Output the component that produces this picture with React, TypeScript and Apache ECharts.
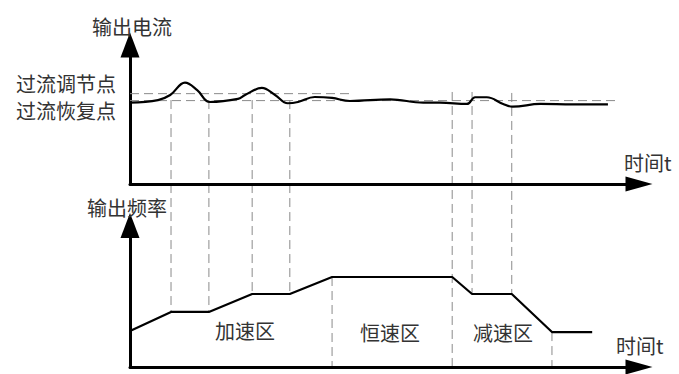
import React, { useEffect, useRef } from "react";
import * as echarts from "echarts";

// Time axis (arbitrary units 0..100)
const currentT = [0, 5.5, 7.9, 10.8, 13.2, 15.7, 21.2, 22.6, 25.9, 28.5, 31.0, 33.0, 36.3, 39.7, 43.2, 51.1, 57.6, 60.9, 66.2, 67.8, 70.1, 73.3, 75.2, 80.6, 87.0, 93.9];
const currentV = [58.6, 60.4, 64.0, 72.9, 67.6, 59.0, 61.2, 64.0, 69.1, 64.0, 58.1, 59.0, 62.6, 61.9, 59.7, 60.9, 58.5, 58.5, 57.6, 62.4, 62.4, 57.6, 55.6, 57.6, 57.3, 57.3];

const freqT = [0, 8.06, 15.5, 24.0, 31.4, 39.7, 63.3, 67.2, 75.0, 82.9, 90.8];
const freqV = [25.4, 38.9, 38.9, 51.6, 51.6, 63.6, 63.6, 51.6, 51.6, 24.7, 24.7];

// Over-current thresholds
const adjustLevel = 65.0; // 过流调节点
const adjustEndT = 43.6;
const recoverLevel = 60.0; // 过流恢复点
const recoverEndT = 95.9;

// Vertical guides: time, panel where the guide starts, value there, frequency where it ends
const guideT = [8.06, 15.5, 24.0, 31.4, 39.7, 63.3, 67.2, 75.0, 82.9];
const guideTopPanel = ["current", "current", "current", "current", "freq", "current", "current", "current", "freq"];
const guideTopValue = [60.4, 60.4, 60.4, 60.4, 63.6, 66.2, 66.2, 65.5, 24.7];
const guideBottomFreq = [38.9, 38.9, 51.6, 51.6, 0, 0, 51.6, 51.6, 0];

const FONT = '"Noto Sans CJK SC", sans-serif';

function label(text: string, x: number, y: number, align: string = "center") {
  return {
    type: "text",
    x,
    y,
    z: 10,
    style: {
      text,
      fontSize: 20,
      fontFamily: FONT,
      fill: "#333",
      align,
      verticalAlign: "middle",
    },
  };
}

export default function App() {
  const ref = useRef<HTMLDivElement>(null);
  useEffect(() => {
    if (!ref.current) return;
    const chart = echarts.init(ref.current, null, { renderer: "svg" });
    const axisLineX = {
      show: true,
      onZero: false,
      symbol: ["none", "triangle"],
      symbolSize: [15, 27],
      lineStyle: { color: "#000", width: 3 },
    };
    const axisLineY = {
      show: true,
      onZero: false,
      symbol: ["none", "triangle"],
      symbolSize: [19, 25],
      lineStyle: { color: "#000", width: 3 },
    };
    const hidden = {
      axisTick: { show: false },
      axisLabel: { show: false },
      splitLine: { show: false },
    };
    const texts = [
      label("输出电流", 132, 26),
      label("过流调节点", 66, 83),
      label("过流恢复点", 66, 110),
      label("时间t", 624, 162, "left"),
      label("输出频率", 127, 207),
      label("加速区", 245, 330),
      label("恒速区", 390, 332),
      label("减速区", 503, 332),
      label("时间t", 616, 345, "left"),
    ];
    const dashed = { color: "#8a8a8a", width: 1, type: [9, 5] };
    chart.setOption({
      animation: false,
      backgroundColor: "#fff",
      grid: [
        { left: 130, width: 509, top: 45, height: 139 },
        { left: 130, width: 509, top: 225.5, height: 141.5 },
      ],
      xAxis: [
        { type: "value", gridIndex: 0, min: 0, max: 100, axisLine: axisLineX, ...hidden },
        { type: "value", gridIndex: 1, min: 0, max: 100, axisLine: axisLineX, ...hidden },
      ],
      yAxis: [
        { type: "value", gridIndex: 0, min: 0, max: 100, axisLine: axisLineY, ...hidden },
        { type: "value", gridIndex: 1, min: 0, max: 100, axisLine: axisLineY, ...hidden },
      ],
      series: [
        {
          type: "line",
          xAxisIndex: 0,
          yAxisIndex: 0,
          data: [[0, adjustLevel], [adjustEndT, adjustLevel]],
          showSymbol: false,
          lineStyle: dashed,
          z: 1,
        },
        {
          type: "line",
          xAxisIndex: 0,
          yAxisIndex: 0,
          data: [[0, recoverLevel], [recoverEndT, recoverLevel]],
          showSymbol: false,
          lineStyle: dashed,
          z: 1,
        },
        {
          type: "line",
          xAxisIndex: 0,
          yAxisIndex: 0,
          data: currentT.map((t, i) => [t, currentV[i]]),
          smooth: 0.4,
          showSymbol: false,
          lineStyle: { color: "#000", width: 2.2 },
          z: 3,
        },
        {
          type: "line",
          xAxisIndex: 1,
          yAxisIndex: 1,
          data: freqT.map((t, i) => [t, freqV[i]]),
          showSymbol: false,
          lineStyle: { color: "#000", width: 2.2 },
          z: 3,
        },
      ],
      graphic: texts,
    });

    const guides = guideT.map((t, i) => {
      const top = chart.convertToPixel(
        { gridIndex: guideTopPanel[i] === "current" ? 0 : 1 },
        [t, guideTopValue[i]]
      ) as number[];
      const bottom = chart.convertToPixel({ gridIndex: 1 }, [t, guideBottomFreq[i]]) as number[];
      return {
        type: "line",
        z: 0,
        shape: { x1: top[0], y1: top[1], x2: bottom[0], y2: bottom[1] },
        style: { stroke: "#8a8a8a", lineWidth: 1, lineDash: [9, 5] },
      };
    });
    chart.setOption({ graphic: [...texts, ...guides] });

    return () => chart.dispose();
  }, []);
  return (
    <div
      ref={ref}
      style={{ position: "fixed", left: 0, top: 0, width: 679, height: 374 }}
    />
  );
}
